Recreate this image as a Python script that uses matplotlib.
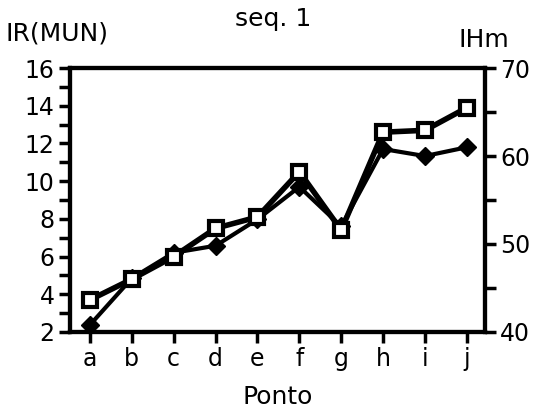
import matplotlib
matplotlib.use("Agg")
import matplotlib.pyplot as plt

pontos = ["a", "b", "c", "d", "e", "f", "g", "h", "i", "j"]
ir_mun = [3.7, 4.8, 6.0, 7.5, 8.1, 10.5, 7.4, 12.6, 12.7, 13.9]
ihm = [40.8, 46.1, 49.0, 49.8, 52.8, 56.5, 52.0, 60.8, 60.0, 61.0]

plt.rcParams['font.family'] = ['DejaVu Sans']
fig = plt.figure(figsize=(5.46, 4.18), dpi=100)
ax = fig.add_axes([0.128, 0.206, 0.76, 0.631])
ax2 = ax.twinx()

x = list(range(len(pontos)))
ax2.plot(x, ihm, color='black', lw=3, marker='D', ms=9, mfc='black', mec='black', zorder=2)
ax.plot(x, ir_mun, color='black', lw=4, marker='s', ms=10, mfc='white', mec='black', mew=3, zorder=3)
ax.set_zorder(ax2.get_zorder() + 1)
ax.patch.set_visible(False)

ax.set_xlim(-0.48, 9.43)
ax.set_ylim(2, 16)
ax2.set_ylim(40, 70)
ax.set_xticks(x)
ax.set_xticklabels(pontos)
ax.set_yticks(range(2, 17, 2))
ax.set_yticks(range(2, 17, 1), minor=True)
ax2.set_yticks([40, 50, 60, 70])
ax2.set_yticks(range(40, 71, 5), minor=True)

for a in (ax, ax2):
    for s in a.spines.values():
        s.set_linewidth(3)
    a.tick_params(which='both', direction='out', width=2.5, labelsize=17, pad=3)
    a.tick_params(which='major', length=8)
    a.tick_params(which='minor', length=8)

ax.set_xlabel("Ponto", fontsize=18, labelpad=10)
fig.text(0.01, 0.92, "IR(MUN)", fontsize=18, ha='left', va='center')
fig.text(0.50, 0.955, "seq. 1", fontsize=18, ha='center', va='center')
fig.text(0.84, 0.905, "IHm", fontsize=18, ha='left', va='center')

fig.savefig("out.png", dpi=100)
